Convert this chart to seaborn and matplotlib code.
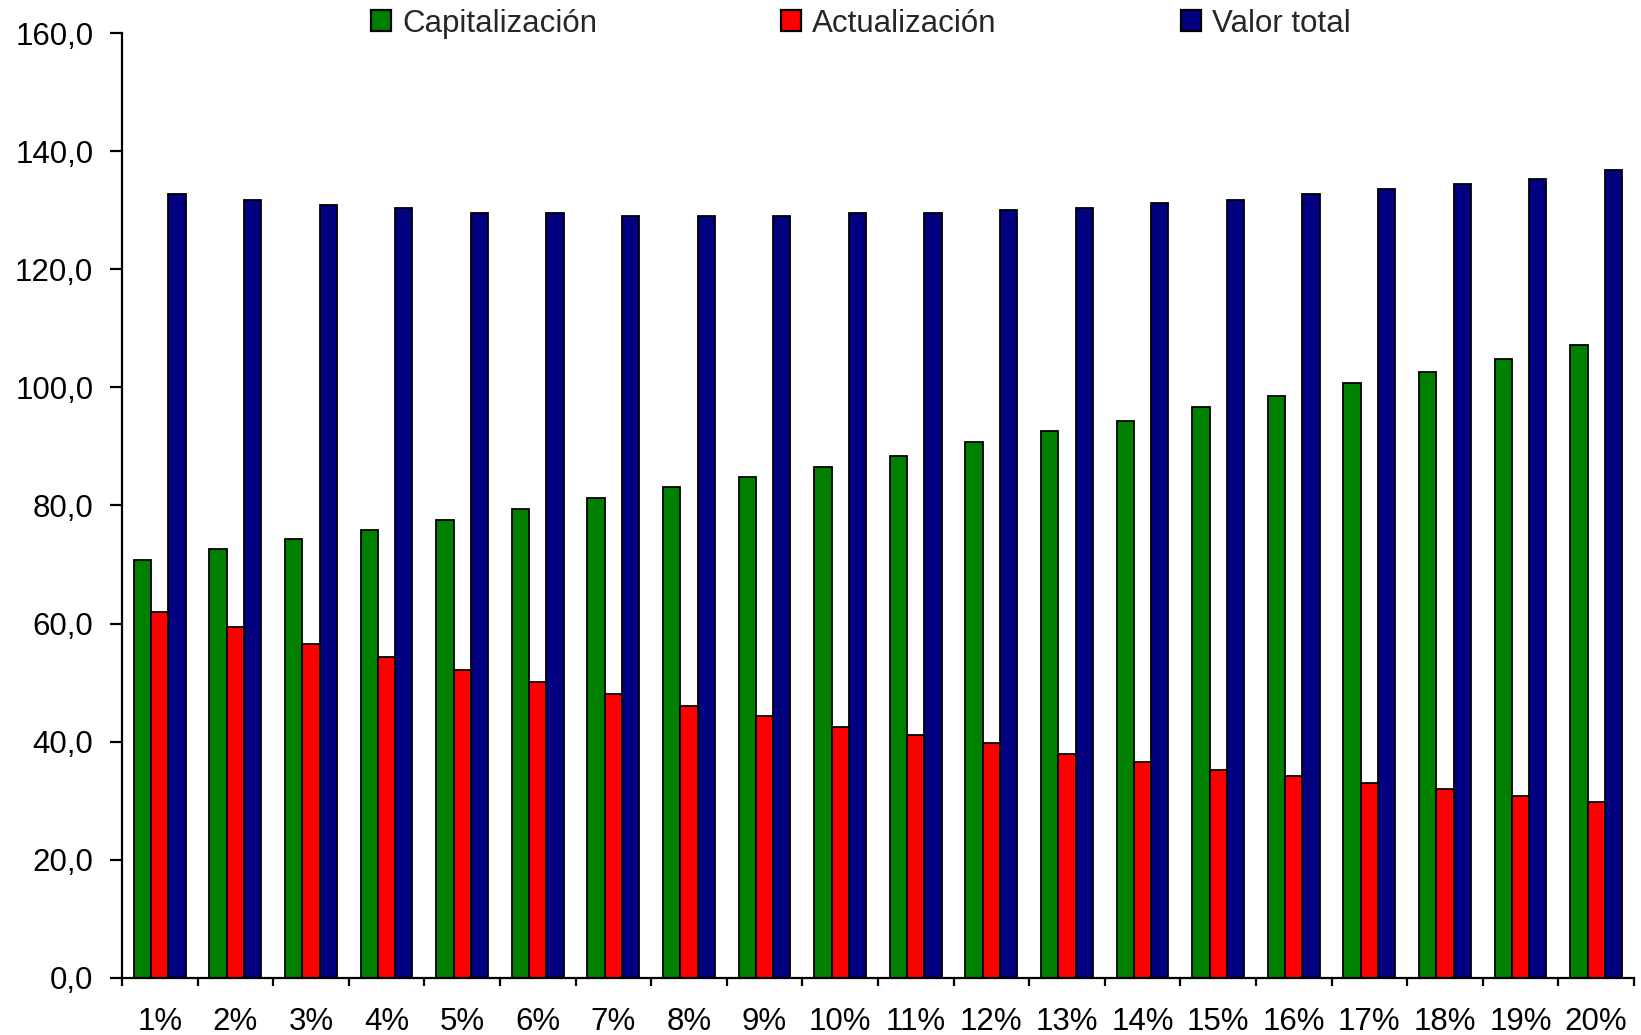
import matplotlib
matplotlib.use("Agg")
import matplotlib.pyplot as plt
from matplotlib.ticker import FuncFormatter, FixedLocator
from matplotlib.patches import Patch
import seaborn as sns
import pandas as pd

# Tipos de interés y valores por serie
tasas = [f"{i}%" for i in range(1, 21)]
capitalizacion = [70.7, 72.6, 74.4, 75.8, 77.6, 79.4, 81.3, 83.1, 84.9, 86.6,
                  88.4, 90.7, 92.7, 94.4, 96.7, 98.5, 100.8, 102.6, 104.9, 107.2]
actualizacion = [62.0, 59.4, 56.5, 54.4, 52.1, 50.1, 48.0, 46.1, 44.3, 42.5,
                 41.1, 39.7, 37.9, 36.5, 35.1, 34.2, 33.0, 31.9, 30.7, 29.8]
valor_total = [132.7, 131.8, 130.9, 130.4, 129.5, 129.5, 129.0, 129.0, 129.0, 129.5,
               129.5, 130.0, 130.4, 131.3, 131.8, 132.7, 133.6, 134.5, 135.4, 136.8]
series = ["Capitalización", "Actualización", "Valor total"]
colores = ["#008000", "#FF0000", "#000080"]

df = pd.DataFrame({
    "tasa": tasas * 3,
    "serie": [series[0]] * 20 + [series[1]] * 20 + [series[2]] * 20,
    "valor": capitalizacion + actualizacion + valor_total,
})

sns.set_theme(style="white")
plt.rcParams["font.family"] = ["Liberation Sans", "DejaVu Sans"]

FS = 22.5

fig = plt.figure(figsize=(16.41, 10.35), dpi=100)
ax = fig.add_axes([0.0743, 0.0554, 0.9214, 0.9124])

sns.barplot(data=df, x="tasa", y="valor", hue="serie", hue_order=series,
            palette=colores, width=0.684, edgecolor="black", linewidth=1.3,
            saturation=1, legend=False, ax=ax, errorbar=None)

ax.set_ylim(0, 160)
ax.set_xlim(-0.5, len(tasas) - 0.5)
ax.set_yticks(range(0, 161, 20))
ax.yaxis.set_major_formatter(FuncFormatter(lambda v, p: f"{v:.1f}".replace(".", ",")))
ax.set_xlabel("")
ax.set_ylabel("")

for s in ["top", "right"]:
    ax.spines[s].set_visible(False)
for s in ["left", "bottom"]:
    ax.spines[s].set_color("black")
    ax.spines[s].set_linewidth(1.6)

ax.tick_params(axis="y", which="major", direction="out", length=8.6, width=1.6,
               color="black", labelsize=FS, pad=12, left=True)
ax.tick_params(axis="x", which="major", length=0, labelsize=FS, pad=21)
ax.xaxis.set_minor_locator(FixedLocator([k - 0.5 for k in range(len(tasas) + 1)]))
ax.tick_params(axis="x", which="minor", direction="out", length=6, width=1.6,
               color="black", bottom=True)
for lbl in ax.get_xticklabels() + ax.get_yticklabels():
    lbl.set_color("black")

handles = [Patch(facecolor=c, edgecolor="black", linewidth=1.6, label=s)
           for c, s in zip(colores, series)]
fig.legend(handles=handles, loc="center left", bbox_to_anchor=(0.2261, 0.977),
           ncol=3, frameon=False, fontsize=FS, handlelength=0.64,
           handleheight=0.64, handletextpad=0.35, columnspacing=5.9,
           borderpad=0, borderaxespad=0)

fig.savefig("out.png", dpi=100, facecolor="white")
